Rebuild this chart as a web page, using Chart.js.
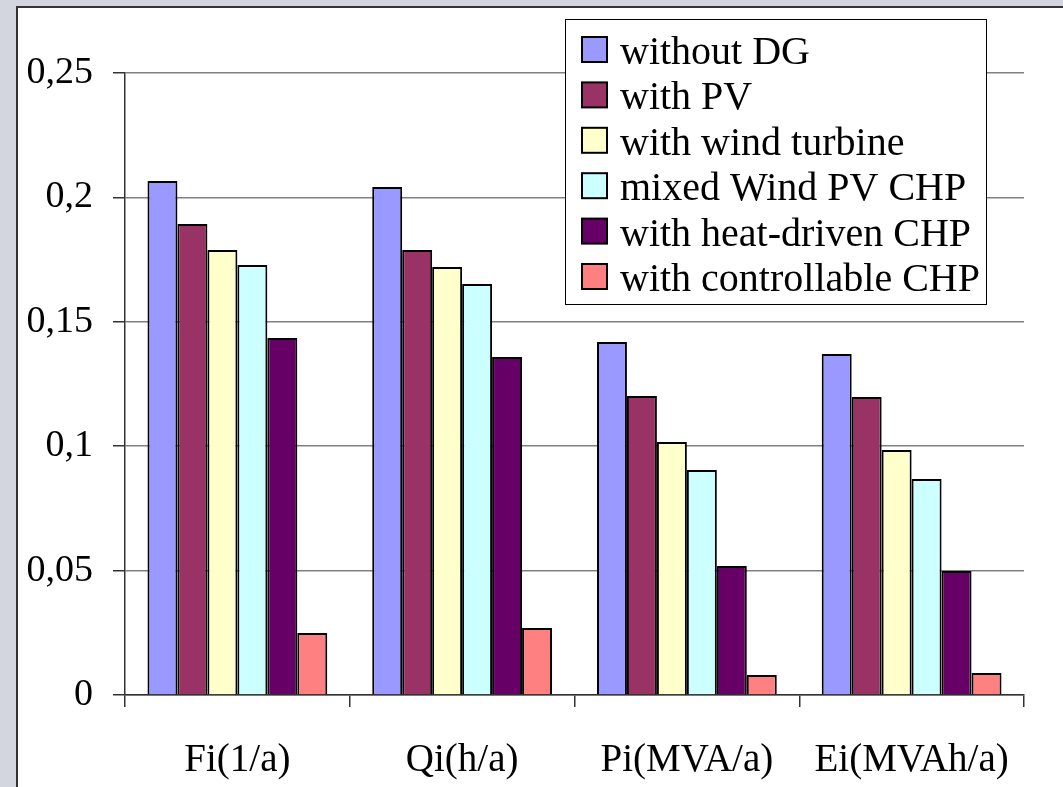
<!DOCTYPE html>
<html>
<head>
<meta charset="utf-8">
<script src="https://cdn.jsdelivr.net/npm/chart.js@4.4.1/dist/chart.umd.min.js"></script>
<style>
    body { margin: 0; background: #d3d6de; overflow: hidden; }
    #panel {
        position: absolute; left: 16px; top: 6px; width: 1100px; height: 820px;
        background: #fff; border-left: 2px solid #333; border-top: 2px solid #333;
    }
    #chart { position: absolute; left: 0; top: 0; }
</style>
</head>
<body>
<div id="panel"></div>
<canvas id="chart" width="1063" height="787"></canvas>
<script>
// Reliability indices - bar chart

const categories = ['Fi(1/a)', 'Qi(h/a)', 'Pi(MVA/a)', 'Ei(MVAh/a)'];
const seriesNames = ['without DG', 'with PV', 'with wind turbine', 'mixed Wind PV CHP', 'with heat-driven CHP', 'with controllable CHP'];
const withoutDG = [0.2066, 0.2042, 0.1419, 0.1371];
const withPV = [0.1893, 0.1789, 0.1202, 0.1198];
const withWind = [0.1789, 0.1720, 0.1017, 0.0985];
const mixedWindPvChp = [0.1728, 0.1652, 0.0904, 0.0868];
const heatDrivenChp = [0.1435, 0.1359, 0.0518, 0.0498];
const controllableChp = [0.0249, 0.0269, 0.0080, 0.0088];
const yTickLabels = ['0', '0,05', '0,1', '0,15', '0,2', '0,25'];

const colors = ['#9999ff', '#993366', '#ffffcc', '#ccffff', '#660066', '#ff8080'];
const seriesValues = [withoutDG, withPV, withWind, mixedWindPvChp, heatDrivenChp, controllableChp];
const FONT = '"Liberation Serif", "Times New Roman", serif';

// legend drawn as a boxed list over the plot, like the original
const boxLegend = {
    id: 'boxLegend',
    afterDraw(chart) {
        const c = chart.ctx;
        c.save();
        c.fillStyle = '#fff';
        c.fillRect(565, 19, 422, 286);
        c.strokeStyle = '#000';
        c.lineWidth = 1;
        c.strokeRect(565.5, 19.5, 421, 285);
        c.font = '40px ' + FONT;
        c.textBaseline = 'alphabetic';
        chart.data.datasets.forEach((ds, i) => {
            const y = 37 + i * 45.4;
            c.fillStyle = ds.backgroundColor;
            c.fillRect(582, y, 25, 25);
            c.lineWidth = 2;
            c.strokeRect(582, y, 25, 25);
            c.fillStyle = '#000';
            c.fillText(ds.label, 620, y + 27);
        });
        c.restore();
    }
};

new Chart(document.getElementById('chart').getContext('2d'), {
    type: 'bar',
    data: {
        labels: categories,
        datasets: seriesNames.map((name, i) => ({
            label: name,
            data: seriesValues[i],
            backgroundColor: colors[i],
            borderColor: '#000',
            borderWidth: 2,
            barPercentage: 1,
            categoryPercentage: 0.8
        }))
    },
    options: {
        responsive: false,
        animation: false,
        layout: { padding: { left: 0, top: 73, right: 39, bottom: 0 } },
        plugins: {
            legend: { display: false },
            tooltip: { enabled: false }
        },
        scales: {
            x: {
                offset: true,
                grid: {
                    offset: true,
                    drawOnChartArea: true,
                    color: (ctx) => ctx.index === 4 ? '#808080' : 'rgba(0,0,0,0)',
                    tickColor: (ctx) => ctx.index === 4 ? '#808080' : '#333',
                    tickLength: 12,
                    lineWidth: 1.5
                },
                border: { color: '#333', width: 1.5 },
                ticks: {
                    color: '#000',
                    font: { family: FONT, size: 39 },
                    padding: 30,
                    maxRotation: 0
                },
                afterFit: (scale) => { scale.height = 92; }
            },
            y: {
                min: 0,
                max: 0.25,
                ticks: {
                    stepSize: 0.05,
                    color: '#000',
                    font: { family: FONT, size: 38 },
                    padding: 20,
                    callback: (value, index) => yTickLabels[index]
                },
                grid: {
                    color: '#808080',
                    tickColor: '#333',
                    tickLength: 12,
                    lineWidth: 1.5
                },
                border: { color: '#333', width: 1.5 },
                afterFit: (scale) => { scale.width = 125; }
            }
        }
    },
    plugins: [boxLegend]
});
</script>
</body>
</html>
